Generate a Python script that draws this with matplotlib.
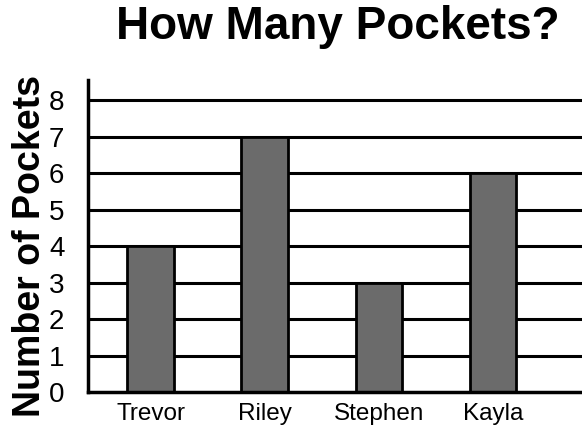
import numpy as np
from matplotlib import pyplot as plt

# data
names = ['Trevor', 'Riley', 'Stephen', 'Kayla']
pockets = [4, 7, 3, 6]
yticks = list(range(0, 9))

plt.rcParams['font.family'] = ['Liberation Sans', 'DejaVu Sans']

fig = plt.figure(figsize=(5.82, 4.33), dpi=100)
ax = fig.add_axes([88/582, 1 - 392/433, 1 - 88/582, (392 - 80)/433])

x = np.arange(len(names))
ax.bar(x, pockets, width=0.41, color='#6b6b6b', edgecolor='black', linewidth=2, zorder=3)

# thick horizontal lines like the worksheet
for v in yticks[1:]:
    ax.axhline(v, color='black', linewidth=2.2, zorder=1)

ax.set_xlim(-0.55, 3.78)
ax.set_ylim(0, 8.55)
ax.set_xticks(x)
ax.set_xticklabels(names, fontsize=17.5)
ax.set_yticks(yticks)
ax.set_yticklabels([str(v) for v in yticks], fontsize=20)
ax.tick_params(axis='x', length=0, pad=8)
ax.tick_params(axis='y', length=0, pad=17)

for s in ['top', 'right']:
    ax.spines[s].set_visible(False)
for s in ['left', 'bottom']:
    ax.spines[s].set_linewidth(2.5)
    ax.spines[s].set_zorder(4)

fig.text(338/582, 1 - 27/433, 'How Many Pockets?', fontsize=33, fontweight='bold',
         ha='center', va='center')
fig.text(30/582, 1 - 246/433, 'Number of Pockets', fontsize=27, fontweight='bold',
         rotation=90, ha='center', va='center')

fig.savefig('out.png', dpi=100)
